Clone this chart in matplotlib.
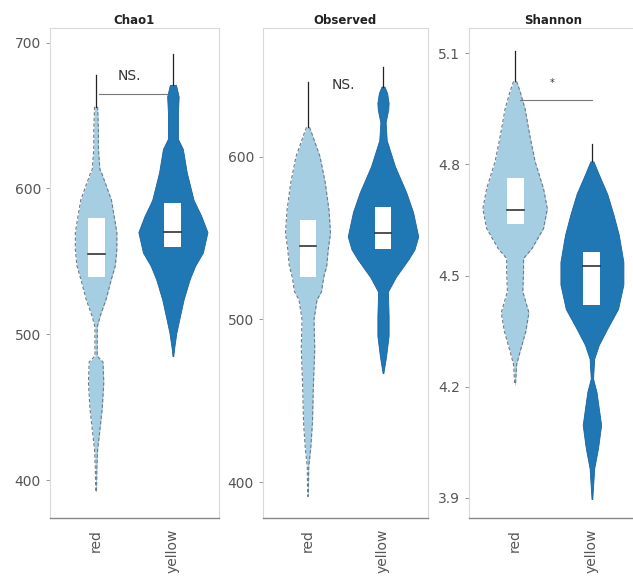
import numpy as np
import matplotlib
matplotlib.use("Agg")
import matplotlib.pyplot as plt

groups = ["red", "yellow"]
titles = ["Chao1", "Observed", "Shannon"]
fillColors = ["#a6cee3", "#1f78b4"]

# violin outlines: value levels and half widths (x units)
chaoRedY = [656, 640, 627, 613, 611, 592, 570, 558, 547, 538, 524, 512, 505, 485, 481, 467, 449, 430, 421, 408, 392]
chaoRedW = [0.02, 0.03, 0.03, 0.05, 0.07, 0.20, 0.27, 0.27, 0.25, 0.20, 0.13, 0.05, 0.015, 0.015, 0.09, 0.10, 0.08, 0.04, 0.02, 0.01, 0.005]
chaoYelY = [671, 663, 652, 634, 627, 611, 592, 581, 570, 556, 547, 538, 524, 512, 501, 490, 485]
chaoYelW = [0.04, 0.075, 0.065, 0.065, 0.13, 0.18, 0.27, 0.37, 0.45, 0.39, 0.29, 0.22, 0.14, 0.09, 0.045, 0.015, 0.005]

obsRedY = [618, 615, 600, 584, 567, 553, 543, 533, 526, 517, 512, 500, 482, 457, 437, 420, 410, 391]
obsRedW = [0.02, 0.045, 0.16, 0.23, 0.28, 0.30, 0.27, 0.25, 0.21, 0.18, 0.12, 0.08, 0.09, 0.07, 0.06, 0.035, 0.01, 0.005]
obsYelY = [643, 639, 633, 629, 621, 610, 594, 578, 566, 551, 543, 537, 526, 517, 502, 490, 477, 467]
obsYelW = [0.02, 0.055, 0.075, 0.07, 0.035, 0.05, 0.16, 0.31, 0.40, 0.47, 0.42, 0.34, 0.17, 0.065, 0.075, 0.075, 0.04, 0.005]

shanRedY = [5.024, 4.997, 4.95, 4.88, 4.808, 4.735, 4.68, 4.627, 4.573, 4.546, 4.51, 4.457, 4.40, 4.35, 4.295, 4.26, 4.205]
shanRedW = [0.02, 0.065, 0.13, 0.19, 0.26, 0.37, 0.42, 0.37, 0.22, 0.11, 0.11, 0.10, 0.18, 0.14, 0.065, 0.02, 0.005]
shanYelY = [4.808, 4.773, 4.72, 4.665, 4.61, 4.537, 4.476, 4.41, 4.357, 4.313, 4.276, 4.222, 4.186, 4.097, 4.035, 3.98, 3.897]
shanYelW = [0.02, 0.09, 0.20, 0.28, 0.35, 0.41, 0.41, 0.34, 0.20, 0.09, 0.03, 0.015, 0.06, 0.12, 0.08, 0.03, 0.005]

# thin tails drawn as black lines (top end, bottom end)
chaoTips = [(678, 656), (692, 671)]
obsTips = [(646, 618), (655, 643)]
shanTips = [(5.105, 5.024), (4.854, 4.808)]

# box: lower hinge, median, upper hinge
chaoBox = [(539, 555, 580), (560, 570, 590)]
obsBox = [(526, 545, 561), (543, 553, 569)]
shanBox = [(4.638, 4.676, 4.762), (4.42, 4.526, 4.565)]

yTicks = [[400, 500, 600, 700], [400, 500, 600], [3.9, 4.2, 4.5, 4.8, 5.1]]
yLims = [(374, 710), (378, 679), (3.846, 5.168)]

# significance: (label, label x, label y, line y or None, line x0, line x1)
sigMarks = [("NS.", 0.43, 677, 665, 0.04, 0.92),
	("NS.", 0.47, 644, None, 0, 0),
	("*", 0.48, 5.02, 4.973, 0.07, 1.0)]

violins = [[(chaoRedY, chaoRedW), (chaoYelY, chaoYelW)],
	[(obsRedY, obsRedW), (obsYelY, obsYelW)],
	[(shanRedY, shanRedW), (shanYelY, shanYelW)]]
tips = [chaoTips, obsTips, shanTips]
boxes = [chaoBox, obsBox, shanBox]

fig = plt.figure(figsize=(6.33, 5.85), dpi=100)
W, H = 633.0, 585.0
axLeft = [50, 263, 469]
axW = [169, 165, 169]
top, bottom = 28, 518

for i in range(3):
	ax = fig.add_axes([axLeft[i] / W, 1 - bottom / H, axW[i] / W, (bottom - top) / H])
	for g in range(2):
		yy = np.array(violins[i][g][0])
		ww = np.array(violins[i][g][1])
		if g == 0:
			ax.fill_betweenx(yy, g - ww, g + ww, color=fillColors[g], lw=0, zorder=2)
			ax.plot(g - ww, yy, color="#6b7b86", lw=0.8, ls=(0, (3, 2)), zorder=3)
			ax.plot(g + ww, yy, color="#6b7b86", lw=0.8, ls=(0, (3, 2)), zorder=3)
		else:
			ax.fill_betweenx(yy, g - ww, g + ww, color=fillColors[g], lw=0.6,
				edgecolor="#1a64a0", zorder=2)
		t0, t1 = tips[i][g]
		ax.plot([g, g], [t1, t0], color="#222222", lw=0.9, zorder=3)
		lo, med, hi = boxes[i][g]
		ax.add_patch(plt.Rectangle((g - 0.11, lo), 0.22, hi - lo, facecolor="white",
			edgecolor="none", zorder=4))
		ax.plot([g - 0.11, g + 0.11], [med, med], color="#222222", lw=1.1, zorder=5)

	lab, lx, ly, liney, x0, x1 = sigMarks[i]
	ax.text(lx, ly, lab, ha="center", va="center",
		fontsize=10 if lab != "*" else 7, color="#333333", zorder=6)
	if liney is not None:
		ax.plot([x0, x1], [liney, liney], color="#777777", lw=0.8, zorder=6)

	ax.set_xlim(-0.6, 1.6)
	ax.set_ylim(*yLims[i])
	ax.set_yticks(yTicks[i])
	if i == 2:
		ax.set_yticklabels([f"{v:.1f}" for v in yTicks[i]])
	ax.set_xticks([0, 1])
	ax.set_xticklabels(groups, rotation=90)
	ax.tick_params(axis="y", labelsize=10, labelcolor="#555555", color="#888888", length=3, width=0.6)
	ax.tick_params(axis="x", labelsize=10, labelcolor="#555555", length=0, pad=8)
	for s in ["top", "left", "right"]:
		ax.spines[s].set_color("#d9d9d9")
		ax.spines[s].set_linewidth(0.8)
	ax.spines["bottom"].set_color("#888888")
	ax.spines["bottom"].set_linewidth(1.0)
	ax.set_title(titles[i], fontsize=8.5, fontweight="bold", color="#222222", pad=3)

plt.savefig("out.png", dpi=100)
